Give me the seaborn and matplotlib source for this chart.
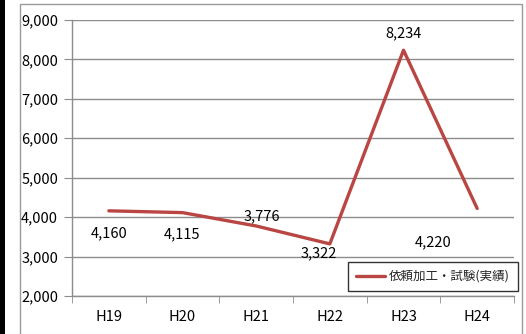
import matplotlib.pyplot as plt
import matplotlib.patches as mpatches
import seaborn as sns
import pandas as pd

# data
years = ["H19", "H20", "H21", "H22", "H23", "H24"]
counts = [4160, 4115, 3776, 3322, 8234, 4220]
series_name = "依頼加工・試験(実績)"

# label offsets in pixels (dx, dy) relative to each point
label_offsets = [(0, -22), (0, -22), (6, 10), (-11, -9), (0, 17), (-44, -34)]

LINE_COLOR = "#B94643"
GRID_COLOR = "#8C8C8C"

sns.set_style("white")
plt.rcParams["font.family"] = ["Noto Sans CJK JP", "DejaVu Sans"]

df = pd.DataFrame({"year": years, "count": counts})

fig = plt.figure(figsize=(5.26, 3.34), dpi=100)
ax = fig.add_axes([72 / 526, 1 - 296 / 334, 442 / 526, 276 / 334])

sns.lineplot(data=df, x="year", y="count", sort=False, color=LINE_COLOR,
             linewidth=2.4, ax=ax, label=series_name)

for i, (yr, v) in enumerate(zip(years, counts)):
    dx, dy = label_offsets[i]
    ax.annotate(f"{v:,}", (i, v), xytext=(dx, dy), textcoords="offset pixels",
                ha="center", va="center", fontsize=10.5, color="black")

ax.set_ylim(2000, 9000)
ax.set_yticks(range(2000, 9001, 1000))
ax.set_yticklabels([f"{t:,}" for t in range(2000, 9001, 1000)])
ax.set_xlim(-0.5, 5.5)
ax.set_xticks(range(len(years)))
ax.set_xticklabels(years)
ax.set_xticks([i - 0.5 for i in range(len(years) + 1)], minor=True)
ax.set_xlabel("")
ax.set_ylabel("")

ax.yaxis.grid(True, color=GRID_COLOR, linewidth=1)
ax.set_axisbelow(True)
for s in ["top", "right"]:
    ax.spines[s].set_visible(False)
for s in ["left", "bottom"]:
    ax.spines[s].set_color(GRID_COLOR)
    ax.spines[s].set_linewidth(1)

ax.tick_params(axis="y", which="major", length=6, color=GRID_COLOR,
               direction="out", left=True, labelsize=10.5, pad=4)
ax.tick_params(axis="x", which="major", length=0, labelsize=10.5, pad=10)
ax.tick_params(axis="x", which="minor", length=5, color=GRID_COLOR,
               direction="out", bottom=True)
for lbl in ax.get_xticklabels() + ax.get_yticklabels():
    lbl.set_color("black")

leg = ax.legend(loc="lower right", bbox_to_anchor=(1.009, 0.018),
                frameon=True, fancybox=False, fontsize=9, handlelength=2.3,
                borderpad=0.65, handletextpad=0.3, borderaxespad=0)
leg.get_frame().set_edgecolor("black")
leg.get_frame().set_linewidth(1)

# outer chart border and left black bar
fig.patches.append(mpatches.Rectangle((20 / 526, -0.05), 502 / 526, 1.05 - 4 / 334,
                                      transform=fig.transFigure, fill=False,
                                      edgecolor="#9A9A9A", linewidth=1))
fig.patches.append(mpatches.Rectangle((0, 0), 5 / 526, 1, transform=fig.transFigure,
                                      facecolor="black", edgecolor="none"))

fig.savefig("out.png", dpi=100)
